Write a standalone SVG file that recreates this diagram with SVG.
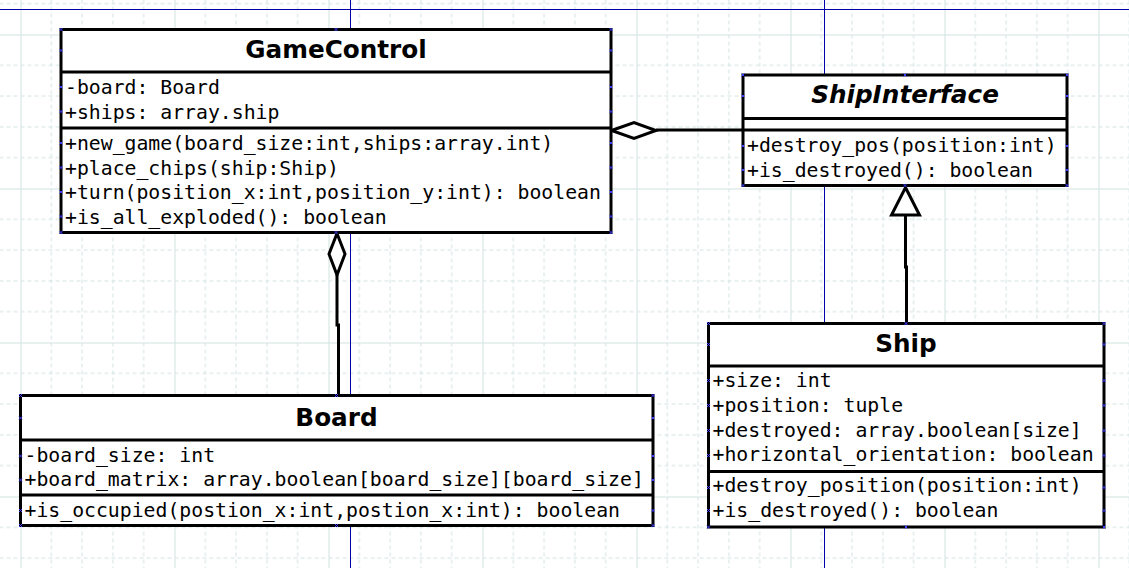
<svg xmlns="http://www.w3.org/2000/svg" xmlns:xlink="http://www.w3.org/1999/xlink" width="1129" height="568" viewBox="0 0 1129 568">
<style>
.box{fill:#ffffff;stroke:#000000;stroke-width:3}
.div{stroke:#000000;stroke-width:3;fill:none}
.title{font-family:"DejaVu Sans","Liberation Sans",sans-serif;font-weight:bold;font-size:24.7px;text-anchor:middle;fill:#000}
.ital{font-style:italic}
.mono{font-family:"DejaVu Sans Mono","Liberation Mono",monospace;font-size:19.8px;fill:#000}
.conn{stroke:#000000;stroke-width:3;fill:none}
.head{stroke:#000000;stroke-width:3;fill:#ffffff;stroke-linejoin:miter}
.page{stroke:#0000a8;stroke-width:1;fill:none}
.cx{stroke:#3b3bff;stroke-width:1;fill:none}
</style>
<defs>
<pattern id="grid" patternUnits="userSpaceOnUse" x="20.5" y="34.5" width="154" height="154">
<path d="M30.8,0V154M61.6,0V154M92.4,0V154M123.2,0V154M0,30.8H154M0,61.6H154M0,92.4H154M0,123.2H154" stroke="#d3e1e1" stroke-width="1" stroke-dasharray="4 3" fill="none"/>
<path d="M0.5,0V154M0,0.5H154" stroke="#d3e1e1" stroke-width="1" fill="none"/>
</pattern>
<path id="x" class="cx" d="M-1.5,-1.5L1.5,1.5M-1.5,1.5L1.5,-1.5"/>
</defs>
<rect x="0" y="0" width="1129" height="568" fill="#ffffff"/>
<rect x="0" y="0" width="1129" height="568" fill="url(#grid)"/>
<g id="pagebreaks">
<path class="page" d="M0,9.5H1129M350.5,0V568M824.5,0V568"/>
</g>
<g id="connectors">
<path class="conn" d="M656,130H743"/>
<path class="head" d="M611.5,130.5L634,122.5L656,130.5L634,138.5Z"/>
<path class="conn" d="M337,275V325H338.5V395"/>
<path class="head" d="M337,233.5L345,254L337,275L329,254Z"/>
<path class="conn" d="M905.5,215V267H906.5V323"/>
<path class="head" d="M905.5,187.5L919.5,215L891.5,215Z"/>
</g>
<g id="GameControl">
<rect class="box" x="61" y="29.5" width="550" height="203"/>
<path class="div" d="M61,72H611M61,128H611"/>
<text class="title" x="336" y="57.5">GameControl</text>
<text class="mono" x="65" y="94">-board: Board</text>
<text class="mono" x="65" y="118.5">+ships: array.ship</text>
<text class="mono" x="65" y="150">+new_game(board_size:int,ships:array.int)</text>
<text class="mono" x="65" y="174.5">+place_chips(ship:Ship)</text>
<text class="mono" x="65" y="199">+turn(position_x:int,position_y:int): boolean</text>
<text class="mono" x="65" y="223.5">+is_all_exploded(): boolean</text>
</g>
<g id="ShipInterface">
<rect class="box" x="743" y="75" width="324" height="110.5"/>
<path class="div" d="M743,118.5H1067M743,130H1067"/>
<text class="title ital" x="905" y="103.3">ShipInterface</text>
<text class="mono" x="747" y="152.3">+destroy_pos(position:int)</text>
<text class="mono" x="747" y="176.5">+is_destroyed(): boolean</text>
</g>
<g id="Ship">
<rect class="box" x="708.5" y="323.5" width="395.5" height="203.5"/>
<path class="div" d="M708.5,366H1104M708.5,471.5H1104"/>
<text class="title" x="906" y="351.7">Ship</text>
<text class="mono" x="712.5" y="387.3">+size: int</text>
<text class="mono" x="712.5" y="412">+position: tuple</text>
<text class="mono" x="712.5" y="436.7">+destroyed: array.boolean[size]</text>
<text class="mono" x="712.5" y="461.3">+horizontal_orientation: boolean</text>
<text class="mono" x="712.5" y="492.3">+destroy_position(position:int)</text>
<text class="mono" x="712.5" y="516.7">+is_destroyed(): boolean</text>
</g>
<g id="Board">
<rect class="box" x="20.5" y="395.5" width="632.5" height="130"/>
<path class="div" d="M20.5,440H653M20.5,495H653"/>
<text class="title" x="336.5" y="425.7">Board</text>
<text class="mono" x="24.5" y="461.7">-board_size: int</text>
<text class="mono" x="24.5" y="485.5">+board_matrix: array.boolean[board_size][board_size]</text>
<text class="mono" x="24.5" y="516.7">+is_occupied(postion_x:int,postion_x:int): boolean</text>
</g>
<g id="connection-points">
<use xlink:href="#x" x="61" y="29.5"/><use xlink:href="#x" x="336" y="29.5"/><use xlink:href="#x" x="611" y="29.5"/>
<use xlink:href="#x" x="61" y="232.5"/><use xlink:href="#x" x="336" y="232.5"/><use xlink:href="#x" x="611" y="232.5"/>
<use xlink:href="#x" x="61" y="50.5"/><use xlink:href="#x" x="61" y="87"/><use xlink:href="#x" x="61" y="111.5"/><use xlink:href="#x" x="61" y="143"/><use xlink:href="#x" x="61" y="167.5"/><use xlink:href="#x" x="61" y="192"/><use xlink:href="#x" x="61" y="216.5"/>
<use xlink:href="#x" x="611" y="50.5"/><use xlink:href="#x" x="611" y="87"/><use xlink:href="#x" x="611" y="111.5"/><use xlink:href="#x" x="611" y="143"/><use xlink:href="#x" x="611" y="167.5"/><use xlink:href="#x" x="611" y="192"/><use xlink:href="#x" x="611" y="216.5"/>
<use xlink:href="#x" x="743" y="75"/><use xlink:href="#x" x="905" y="75"/><use xlink:href="#x" x="1067" y="75"/>
<use xlink:href="#x" x="743" y="185.5"/><use xlink:href="#x" x="905" y="185.5"/><use xlink:href="#x" x="1067" y="185.5"/>
<use xlink:href="#x" x="743" y="96"/><use xlink:href="#x" x="743" y="146"/><use xlink:href="#x" x="743" y="170"/>
<use xlink:href="#x" x="1067" y="96"/><use xlink:href="#x" x="1067" y="146"/><use xlink:href="#x" x="1067" y="170"/>
<use xlink:href="#x" x="708.5" y="323.5"/><use xlink:href="#x" x="906" y="323.5"/><use xlink:href="#x" x="1104" y="323.5"/>
<use xlink:href="#x" x="708.5" y="527"/><use xlink:href="#x" x="906" y="527"/><use xlink:href="#x" x="1104" y="527"/>
<use xlink:href="#x" x="708.5" y="344.5"/><use xlink:href="#x" x="708.5" y="380.5"/><use xlink:href="#x" x="708.5" y="405.5"/><use xlink:href="#x" x="708.5" y="430.5"/><use xlink:href="#x" x="708.5" y="455.5"/><use xlink:href="#x" x="708.5" y="487.5"/><use xlink:href="#x" x="708.5" y="510.5"/>
<use xlink:href="#x" x="1104" y="344.5"/><use xlink:href="#x" x="1104" y="380.5"/><use xlink:href="#x" x="1104" y="405.5"/><use xlink:href="#x" x="1104" y="430.5"/><use xlink:href="#x" x="1104" y="455.5"/><use xlink:href="#x" x="1104" y="487.5"/><use xlink:href="#x" x="1104" y="510.5"/>
<use xlink:href="#x" x="20.5" y="395.5"/><use xlink:href="#x" x="336.5" y="395.5"/><use xlink:href="#x" x="653" y="395.5"/>
<use xlink:href="#x" x="20.5" y="525.5"/><use xlink:href="#x" x="336.5" y="525.5"/><use xlink:href="#x" x="653" y="525.5"/>
<use xlink:href="#x" x="20.5" y="418"/><use xlink:href="#x" x="20.5" y="456"/><use xlink:href="#x" x="20.5" y="480"/><use xlink:href="#x" x="20.5" y="510.5"/>
<use xlink:href="#x" x="653" y="418"/><use xlink:href="#x" x="653" y="456"/><use xlink:href="#x" x="653" y="480"/><use xlink:href="#x" x="653" y="510.5"/>
</g>
</svg>
